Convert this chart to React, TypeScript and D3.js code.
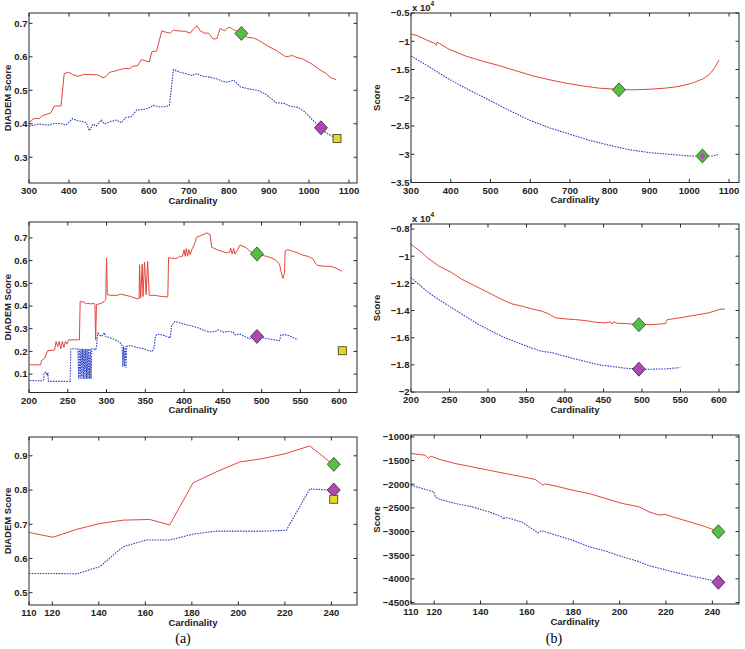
import React from 'react';
import * as d3 from 'd3';

type Pt = [number, number];
type Mark = { x: number; y: number; kind: 'green' | 'purple' | 'yellow' | 'greenPurple' };

// ---- (a) top: DIADEM score vs cardinality
const a1Red: Pt[] = [
  [300, 0.401], [308, 0.413], [317, 0.416], [325, 0.415], [333, 0.424], [346, 0.429], [355, 0.433],
  [363, 0.453], [380, 0.453], [388, 0.55], [399, 0.554], [409, 0.547], [422, 0.542], [439, 0.548],
  [456, 0.547], [472, 0.546], [485, 0.537], [493, 0.542], [502, 0.554], [514, 0.557], [527, 0.562],
  [539, 0.565], [552, 0.565], [560, 0.572], [572, 0.574], [581, 0.592], [594, 0.587], [601, 0.585],
  [607, 0.615], [619, 0.617], [632, 0.678], [644, 0.673], [653, 0.671], [661, 0.68], [670, 0.678],
  [691, 0.676], [703, 0.671], [711, 0.683], [720, 0.693], [728, 0.678], [738, 0.671], [749, 0.671],
  [760, 0.653], [770, 0.655], [778, 0.685], [789, 0.678], [800, 0.689], [812, 0.681], [831, 0.67],
  [846, 0.658], [863, 0.656], [876, 0.648], [896, 0.633], [921, 0.617], [942, 0.6], [959, 0.604],
  [967, 0.599], [984, 0.594], [1005, 0.58], [1030, 0.559], [1043, 0.55], [1055, 0.537], [1068, 0.532],
];
const a1Blue: Pt[] = [
  [300, 0.393], [313, 0.396], [325, 0.399], [350, 0.396], [363, 0.401], [380, 0.401], [392, 0.396],
  [409, 0.415], [422, 0.409], [436, 0.406], [443, 0.403], [451, 0.379], [460, 0.399], [468, 0.393],
  [481, 0.411], [489, 0.399], [502, 0.406], [518, 0.411], [531, 0.403], [542, 0.419], [556, 0.421],
  [569, 0.441], [586, 0.443], [598, 0.446], [611, 0.455], [623, 0.451], [640, 0.451], [651, 0.455],
  [661, 0.562], [678, 0.554], [695, 0.549], [707, 0.544], [720, 0.55], [733, 0.542], [749, 0.54],
  [770, 0.534], [783, 0.527], [795, 0.524], [812, 0.53], [829, 0.51], [850, 0.504], [871, 0.5],
  [888, 0.491], [905, 0.476], [917, 0.463], [938, 0.461], [951, 0.453], [972, 0.449], [989, 0.436],
  [1005, 0.416], [1018, 0.401], [1030, 0.386], [1043, 0.373], [1055, 0.365], [1064, 0.36],
];
const a1Marks: Mark[] = [
  { x: 831, y: 0.67, kind: 'green' },
  { x: 1030, y: 0.388, kind: 'purple' },
  { x: 1070, y: 0.356, kind: 'yellow' },
];

// ---- (b) top: score (x 10^4)
const b1Red: Pt[] = [
  [300, -0.87], [315, -0.9], [328, -0.94], [340, -0.98], [357, -1.03], [361, -1.05], [363, -1.07],
  [365, -1.02], [372, -1.04], [395, -1.14], [437, -1.26], [479, -1.35], [521, -1.43], [563, -1.52],
  [605, -1.61], [647, -1.68], [689, -1.74], [731, -1.79], [773, -1.83], [815, -1.85], [857, -1.86],
  [899, -1.85], [940, -1.83], [974, -1.8], [1008, -1.74], [1033, -1.67], [1050, -1.59], [1062, -1.49],
  [1075, -1.33],
];
const b1Blue: Pt[] = [
  [300, -1.26], [345, -1.45], [395, -1.67], [446, -1.86], [496, -2.04], [546, -2.22], [596, -2.39],
  [647, -2.53], [697, -2.64], [748, -2.75], [798, -2.84], [849, -2.92], [899, -2.97], [949, -3.0],
  [1000, -3.03], [1033, -3.04], [1058, -3.03], [1075, -3.0],
];
const b1Marks: Mark[] = [
  { x: 823, y: -1.86, kind: 'green' },
  { x: 1033, y: -3.03, kind: 'greenPurple' },
];

// ---- (a) middle
const a2Red: Pt[] = [
  [201, 0.141], [215, 0.141], [216, 0.159], [220, 0.17], [224, 0.203], [233, 0.206], [235, 0.244],
  [237, 0.222], [239, 0.244], [241, 0.212], [243, 0.244], [245, 0.218], [247, 0.244], [249, 0.232],
  [251, 0.251], [258.5, 0.251], [265, 0.251], [266, 0.42], [271, 0.417], [273, 0.409], [275.6, 0.412],
  [280, 0.409], [284, 0.412], [285, 0.406], [286, 0.251], [287, 0.406], [293, 0.412], [297, 0.42],
  [299, 0.428], [300, 0.612], [301, 0.45], [305.5, 0.447], [314, 0.447], [318, 0.453], [324.6, 0.447],
  [331, 0.442], [339, 0.432], [342, 0.432], [342.6, 0.582], [344, 0.435], [346, 0.585], [347, 0.442],
  [349, 0.594], [351, 0.45], [353, 0.597], [355, 0.447], [357, 0.447], [363, 0.447], [367, 0.444],
  [371.6, 0.442], [379, 0.44], [380, 0.612], [389, 0.609], [392, 0.612], [394, 0.619], [398, 0.619],
  [400, 0.648], [401.5, 0.619], [403, 0.653], [404.5, 0.619], [406, 0.648], [408, 0.626], [410, 0.648],
  [414, 0.678], [416, 0.703], [423, 0.712], [429, 0.722], [433.5, 0.715], [435.6, 0.659], [442, 0.649],
  [448.4, 0.641], [455, 0.634], [459, 0.638], [460, 0.656], [462, 0.629], [464, 0.653], [465.5, 0.629],
  [469, 0.648], [472, 0.668], [476, 0.663], [480.5, 0.656], [484.7, 0.641], [489, 0.634], [494, 0.629],
  [499.7, 0.624], [506, 0.619], [512.5, 0.612], [519, 0.6], [523, 0.585], [525, 0.553], [527.4, 0.521],
  [529.5, 0.546], [530.4, 0.644], [533.8, 0.648], [540, 0.641], [546.6, 0.634], [553, 0.624],
  [559.4, 0.619], [565.8, 0.609], [570, 0.585], [572, 0.579], [580.8, 0.575], [589, 0.575],
  [595.7, 0.567], [603.4, 0.553],
];
const a2Blue: Pt[] = [
  [201, 0.072], [216, 0.07], [219, 0.075], [219.2, 0.104], [222, 0.109], [223.5, 0.094], [224.4, 0.107],
  [225, 0.068], [237, 0.068], [253, 0.068], [254, 0.212], [263, 0.212], [264, 0.08], [265, 0.212],
  [266, 0.08], [267, 0.212], [268, 0.078], [269, 0.212], [270, 0.08], [271, 0.21], [272, 0.078],
  [273, 0.212], [274, 0.08], [275, 0.21], [276, 0.078], [277, 0.212], [278, 0.08], [279, 0.21],
  [280, 0.078], [281, 0.212], [282, 0.212], [286, 0.207], [287, 0.222], [288.4, 0.273], [289, 0.281],
  [292.6, 0.266], [296, 0.273], [297, 0.283], [299, 0.266], [305.4, 0.259], [314, 0.247], [318, 0.236],
  [320, 0.226], [321, 0.134], [322, 0.222], [323, 0.134], [324, 0.222], [325, 0.128], [326, 0.222],
  [331, 0.226], [339.6, 0.217], [348, 0.212], [354.5, 0.203], [358.8, 0.2], [361, 0.212], [363, 0.266],
  [365, 0.276], [371.6, 0.273], [378, 0.266], [382, 0.259], [384, 0.314], [388, 0.332], [395, 0.325],
  [403.6, 0.317], [412, 0.31], [418.6, 0.303], [427, 0.291], [433.5, 0.285], [440, 0.288], [444, 0.295],
  [450.6, 0.285], [457, 0.288], [463.4, 0.285], [465.5, 0.273], [472, 0.276], [478, 0.266],
  [484.7, 0.256], [494, 0.262], [499.7, 0.262], [508, 0.256], [516.7, 0.251], [523, 0.247],
  [525, 0.273], [531.7, 0.273], [538, 0.266], [546.6, 0.251],
];
const a2Marks: Mark[] = [
  { x: 494, y: 0.629, kind: 'green' },
  { x: 494, y: 0.266, kind: 'purple' },
  { x: 604, y: 0.203, kind: 'yellow' },
];

// ---- (b) middle (x 10^4)
const b2Red: Pt[] = [
  [200, -0.911], [205.6, -0.936], [214, -0.973], [221, -1.01], [236, -1.072], [253, -1.121],
  [266, -1.17], [279, -1.207], [292, -1.244], [305, -1.281], [318, -1.319], [331, -1.351],
  [344, -1.368], [357, -1.388], [370, -1.405], [379, -1.425], [388, -1.454], [400.6, -1.462],
  [413.6, -1.467], [426.6, -1.474], [439.6, -1.486], [452.6, -1.491], [459, -1.484], [461, -1.499],
  [463.4, -1.484], [467.8, -1.494], [478.6, -1.496], [496, -1.504], [513, -1.504], [530.6, -1.496],
  [532.8, -1.467], [543.6, -1.459], [561, -1.442], [574, -1.43], [587, -1.417], [600, -1.393],
  [607.7, -1.388],
];
const b2Blue: Pt[] = [
  [200, -1.158], [210, -1.207], [223, -1.269], [236, -1.319], [253, -1.38], [270.6, -1.442],
  [288, -1.504], [305, -1.553], [322.6, -1.602], [340, -1.64], [357, -1.677], [370, -1.701],
  [383, -1.709], [396, -1.731], [409, -1.751], [426.6, -1.775], [444, -1.8], [461, -1.812],
  [478.6, -1.825], [496, -1.832], [513, -1.832], [530.6, -1.83], [550, -1.82],
];
const b2Marks: Mark[] = [
  { x: 496, y: -1.504, kind: 'green' },
  { x: 496, y: -1.832, kind: 'purple' },
];

// ---- (a) bottom
const a3Red: Pt[] = [
  [110, 0.676], [120.3, 0.662], [130.4, 0.685], [140.4, 0.702], [150.4, 0.712], [161.9, 0.714],
  [170.5, 0.698], [180.5, 0.821], [190.5, 0.853], [200.6, 0.882], [210.6, 0.892], [220.6, 0.907],
  [230.7, 0.929], [240.7, 0.875],
];
const a3Blue: Pt[] = [
  [110, 0.556], [120.3, 0.556], [130.4, 0.555], [140.4, 0.576], [150.4, 0.634], [160.5, 0.654],
  [170.5, 0.654], [180.5, 0.671], [190.5, 0.68], [200.6, 0.68], [210.6, 0.68], [220.6, 0.682],
  [230.7, 0.803], [240.7, 0.8],
];
const a3Marks: Mark[] = [
  { x: 241, y: 0.875, kind: 'green' },
  { x: 241, y: 0.8, kind: 'purple' },
  { x: 241, y: 0.773, kind: 'yellow' },
];

// ---- (b) bottom
const b3Red: Pt[] = [
  [110, -1351], [116.2, -1387], [117.6, -1457], [118.3, -1408], [119, -1415], [122, -1471],
  [129, -1562], [136.3, -1633], [143.5, -1703], [150.7, -1773], [158, -1843], [163.7, -1900],
  [165.9, -1984], [166.9, -2019], [167.8, -1991], [173.8, -2054], [179.5, -2124], [186.7, -2195],
  [193.9, -2300], [201.1, -2406], [208.3, -2476], [212.6, -2581], [217, -2652], [219.8, -2638],
  [222.7, -2687], [230, -2792], [237.1, -2898], [242.6, -3003],
];
const b3Blue: Pt[] = [
  [110, -2019], [114.8, -2089], [119.8, -2160], [120.5, -2265], [122, -2314], [129.1, -2406],
  [136.3, -2476], [143.5, -2581], [149.3, -2687], [150, -2740], [150.7, -2700], [152.5, -2720],
  [157.9, -2800], [163.7, -2990], [164.7, -3030], [166.3, -2980], [172.3, -3073], [179.5, -3179],
  [186.7, -3319], [193.9, -3411], [201.1, -3530], [208.3, -3636], [212.6, -3720], [218.4, -3790],
  [222.7, -3847], [230, -3931], [237.1, -4001], [242.2, -4057],
];
const b3Marks: Mark[] = [
  { x: 242.6, y: -3003, kind: 'green' },
  { x: 242.6, y: -4071, kind: 'purple' },
];

// axis ticks
const cardTicksWide = [300, 400, 500, 600, 700, 800, 900, 1000, 1100];
const cardTicksMid = [200, 250, 300, 350, 400, 450, 500, 550, 600];
const cardTicksSmall = [110, 120, 140, 160, 180, 200, 220, 240];
const a1YTicks = [0.3, 0.4, 0.5, 0.6, 0.7];
const b1YTicks = [-3.5, -3, -2.5, -2, -1.5, -1, -0.5];
const a2YTicks = [0.1, 0.2, 0.3, 0.4, 0.5, 0.6, 0.7];
const b2YTicks = [-2, -1.8, -1.6, -1.4, -1.2, -1, -0.8];
const a3YTicks = [0.5, 0.6, 0.7, 0.8, 0.9];
const b3YTicks = [-4500, -4000, -3500, -3000, -2500, -2000, -1500, -1000];

const RED = '#e2463c';
const BLUE = '#3142c2';
const FONT = '"Liberation Sans", Arial, Helvetica, sans-serif';

interface PanelSpec {
  left: number; top: number; width: number; height: number;
  xDomain: [number, number]; yDomain: [number, number];
  xTicks: number[]; yTicks: number[];
  yLabel: string; yLabelX: number; exponent: boolean;
  red: Pt[]; blue: Pt[]; marks: Mark[];
}

const panels: PanelSpec[] = [
  { left: 29, top: 13, width: 328, height: 170, xDomain: [300, 1120], yDomain: [0.223, 0.731],
    xTicks: cardTicksWide, yTicks: a1YTicks, yLabel: 'DIADEM Score', yLabelX: 10.5, exponent: false,
    red: a1Red, blue: a1Blue, marks: a1Marks },
  { left: 411, top: 13, width: 328, height: 169.5, xDomain: [300, 1125], yDomain: [-3.5, -0.5],
    xTicks: cardTicksWide, yTicks: b1YTicks, yLabel: 'Score', yLabelX: 380, exponent: true,
    red: b1Red, blue: b1Blue, marks: b1Marks },
  { left: 29, top: 222, width: 328, height: 170.5, xDomain: [200, 623], yDomain: [0.019, 0.77],
    xTicks: cardTicksMid, yTicks: a2YTicks, yLabel: 'DIADEM Score', yLabelX: 10.5, exponent: false,
    red: a2Red, blue: a2Blue, marks: a2Marks },
  { left: 411, top: 224, width: 328, height: 168, xDomain: [200, 626], yDomain: [-2, -0.763],
    xTicks: cardTicksMid, yTicks: b2YTicks, yLabel: 'Score', yLabelX: 380, exponent: true,
    red: b2Red, blue: b2Blue, marks: b2Marks },
  { left: 29, top: 437, width: 328, height: 168, xDomain: [110, 251], yDomain: [0.464, 0.955],
    xTicks: cardTicksSmall, yTicks: a3YTicks, yLabel: 'DIADEM Score', yLabelX: 10.5, exponent: false,
    red: a3Red, blue: a3Blue, marks: a3Marks },
  { left: 411, top: 435, width: 328, height: 169, xDomain: [110, 251.5], yDomain: [-4530, -960],
    xTicks: cardTicksSmall, yTicks: b3YTicks, yLabel: 'Score', yLabelX: 380, exponent: false,
    red: b3Red, blue: b3Blue, marks: b3Marks },
];

const fmt = d3.format('~g');

function diamond(cx: number, cy: number, r: number) {
  return `M${cx},${cy - r}L${cx + r * 0.93},${cy}L${cx},${cy + r}L${cx - r * 0.93},${cy}Z`;
}

function Marker({ m, x, y }: { m: Mark; x: d3.ScaleLinear<number, number>; y: d3.ScaleLinear<number, number> }) {
  const cx = x(m.x);
  const cy = y(m.y);
  if (m.kind === 'yellow') {
    return <rect x={cx - 4} y={cy - 4} width={8} height={8} fill="#e6d62a" stroke="#3a3a10" strokeWidth={0.8} />;
  }
  if (m.kind === 'greenPurple') {
    return (
      <g>
        <path d={diamond(cx, cy, 8)} fill="#9ee08a" stroke="none" />
        <path d={diamond(cx, cy, 6.5)} fill="#56bd45" stroke="#2d5a24" strokeWidth={0.8} />
        <path d={diamond(cx, cy, 3.5)} fill="#b04ab4" stroke="none" />
      </g>
    );
  }
  const fill = m.kind === 'green' ? '#56bd45' : '#a94aae';
  const edge = m.kind === 'green' ? '#234a1c' : '#40163f';
  return <path d={diamond(cx, cy, 7)} fill={fill} stroke={edge} strokeWidth={0.8} />;
}

function Panel({ p }: { p: PanelSpec }) {
  const right = p.left + p.width;
  const bottom = p.top + p.height;
  const x = d3.scaleLinear().domain(p.xDomain).range([p.left, right]);
  const y = d3.scaleLinear().domain(p.yDomain).range([bottom, p.top]);
  const line = d3.line<Pt>().x(d => x(d[0])).y(d => y(d[1]));
  const tick = 3.5;

  return (
    <g fontFamily={FONT} fontWeight="bold" fontSize={9.5} fill="#222">
      <path d={line(p.red) ?? ''} fill="none" stroke={RED} strokeWidth={1} strokeLinejoin="round" />
      <path d={line(p.blue) ?? ''} fill="none" stroke={BLUE} strokeWidth={1.1} strokeDasharray="1.6,1.1" />
      <rect x={p.left} y={p.top} width={p.width} height={p.height} fill="none" stroke="#2a2a2a" strokeWidth={1} />
      {p.xTicks.map(t => (
        <g key={`x${t}`}>
          <line x1={x(t)} x2={x(t)} y1={bottom} y2={bottom - tick} stroke="#2a2a2a" />
          <line x1={x(t)} x2={x(t)} y1={p.top} y2={p.top + tick} stroke="#2a2a2a" />
          <text x={x(t)} y={bottom + 11} textAnchor="middle">{fmt(t)}</text>
        </g>
      ))}
      {p.yTicks.map(t => (
        <g key={`y${t}`}>
          <line x1={p.left} x2={p.left + tick} y1={y(t)} y2={y(t)} stroke="#2a2a2a" />
          <line x1={right} x2={right - tick} y1={y(t)} y2={y(t)} stroke="#2a2a2a" />
          <text x={p.left - 1.5} y={y(t)} dy="0.35em" textAnchor="end">{fmt(t)}</text>
        </g>
      ))}
      <text x={(p.left + right) / 2} y={bottom + 20.5} textAnchor="middle">Cardinality</text>
      <text transform={`translate(${p.yLabelX},${(p.top + bottom) / 2}) rotate(-90)`} textAnchor="middle">
        {p.yLabel}
      </text>
      {p.exponent && (
        <text x={p.left + 1} y={p.top - 2.5} fontSize={9.5}>
          x 10<tspan dy={-4.5} fontSize={6.5}>4</tspan>
        </text>
      )}
      {p.marks.map((m, i) => <Marker key={i} m={m} x={x} y={y} />)}
    </g>
  );
}

export default function App() {
  return (
    <svg width={745} height={649} style={{ position: 'absolute', left: 0, top: 0, background: '#fff' }}>
      <rect width={745} height={649} fill="#fff" />
      {panels.map((p, i) => <Panel key={i} p={p} />)}
      <text x={183} y={643} textAnchor="middle" fontFamily='"Liberation Serif", "DejaVu Serif", serif' fontSize={14}>(a)</text>
      <text x={554} y={643} textAnchor="middle" fontFamily='"Liberation Serif", "DejaVu Serif", serif' fontSize={14}>(b)</text>
    </svg>
  );
}
